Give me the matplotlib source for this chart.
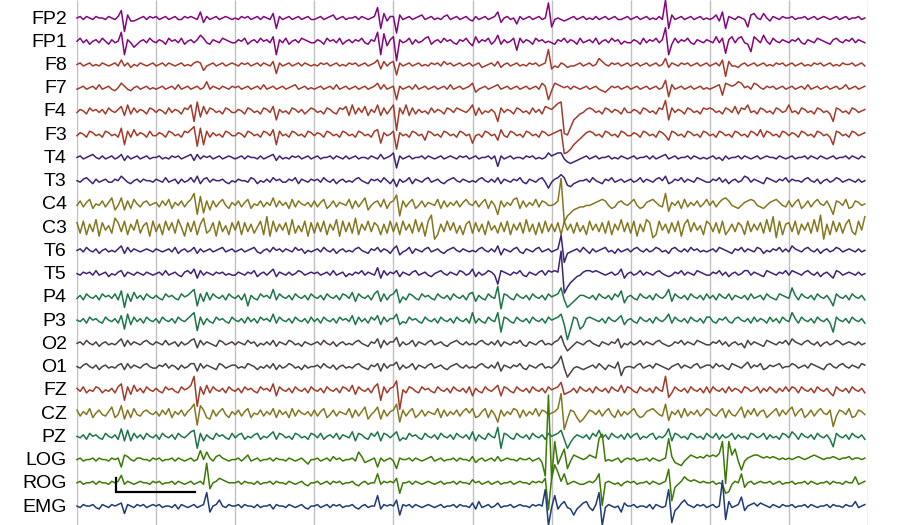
import numpy as np
import matplotlib
matplotlib.use("Agg")
import matplotlib.pyplot as plt

# 10 s of EEG, one string per second (25 samples each).
# Sample code is base 36: 'i' = 0, each step away from 'i' is one unit (up = positive).
FP2 = ["ijhjihjiihjihjn9kgghijhji", "jhijhijhhjijihmfjhijhijih", "ihjijhijhjihlbjhijhijhijh",
       "hijhijkhijhiijhjihijpblgj", "j8khijhijkhijhihjkhijhijh", "gjhijhijmfijhiejhijhijhis",
       "chihghijhijhihjhijhijhhij", "hijhijhihjhubkhijhijhijhi", "hikgmbjihjihcklihligjihji",
       "ijhiijhijhijihijhijhiijhi"]
FP1 = ["ikhjgijhkigjhio9jhegijhki", "hjigkijhkgijhjmkhgjihkjih", "hjikgijhkijhl9jhkgijhkjih",
       "hjigkijhkgijhjikhgjio9nfj", "l5jhikgjhiklgijhkijhgjikh", "flhjikgimgjhikckhjigkijhi",
       "hgjikhjigkhijhkgijhkijgih", "hjigkhjikhjr9gkhjikhgjihj", "ihlhkajlhklhgbljhmigkihji",
       "hjikhgjihkjihgjkihjikhjih"]
F8 = ["ijhijhihjihijhlhjgihjihij", "hijhjihijhihjkjehijhijhij", "ihjijhijhjihkcjhijhijhjih",
      "ihjijhijhihjijhijhijlfkhj", "kbjhijhijhihjijhkijhijhij", "hijghijhkgijhijhihjijhijs",
      "fhgjighhijhijhimkihjijhij", "hijhijhijhimgjihjijhijhij", "hijhlakhhgijhijhijhihjijh",
      "ijhijhihjijhijhihjiijhijh"]
F7 = ["hijhijhkhijhgiljhgijhijhi", "hijhijhkhijhijhimhjihjihj", "ijhijhijhkhijhijhijkhijhi",
      "hijhijhkhijhijhijhijlhkhi", "jajhijhkhijhijhijhkhijhij", "lfhijhijkhijhijhijhijhlja",
      "glkjijhjihijhijhgfhjijhij", "hijhijhijhinckhijhijhijhi", "hijkdlkjkmlijhlkihjijhijh",
      "ijhijhkhijhijhijhikhijhij"]
F4 = ["hjigkijhjgkihjlfmgkhjigkj", "hjigkhjigkjmboelgkjhigkjh", "hjigkjhigkjhlcjhigkjhjgik",
      "jhigkjhgkjlfmgkhlfjhmfkgj", "m5kgmfkgjhigkhjigkjhkjihj", "mfkgihjhbkhjigkjhigkhjglk",
      "jlno327ceghjkjhigkjhjigkh", "hjigkjhigkjpckhjigkjhigkj", "kjhigkjhlgkjmhigkjhigkjhi",
      "mhigkjhigkjhigbkjhigkjhij"]
F3 = ["hjigkjhigkjhigmbkglhjigkh", "hjigkjhigkjlnambkgjhigkjh", "hjigkjhigkjhlbkhigkjhigkj",
      "hjigkjhigkjhigkjhigklcjhi", "k8jhigkjhiekjhigkjhigkjhi", "chigkjhielhgkjhigkjhigkjh",
      "ijkl568bdfhjkjhigkjhigkjh", "hjigkjhigkjhekjhigkjhigkj", "higkjhigkjhigkjhlgkjhigkj",
      "hjigkjhigkjhigbkjhigkjhij"]
T4 = ["ijhijkihjhijhikgjhijhijhi", "ijhihjijhijkgkhjijhijhiji", "hijhjiihjhijkgjhihjijhijh",
      "ijhiijhjihjhijhiihjihkhij", "lbjhijhiijhjihijhijihjijh", "ijhiijhjcjhijhiihjijhihil",
      "jkllhfefghijhijhiijhihjih", "ijhiijhjhijkhijhiijhjihih", "ijhigjhiijhjihijhijiihjih",
      "ijhiijhjihjihijhiijhjihji"]
T3 = ["ihjkigjhijhhjiljhgijhjiih", "jihkhijgjhikhlgjkhjiijhgi", "hjiihkjgihjhkijhhjikgjihj",
      "ijhkihjgijhihjkihgjijhkig", "jejhikgjihjkhijhgijkihjih", "ihjkihjhkgjihjikhgjihjkhd",
      "hjkmkfeghiijhkihgjikhijhi", "jhikhjihjkilghjikhjihkjih", "hjikhjgijhilkhjihgkjihjik",
      "hjiihjkihjgijhikjhijihjhi"]
C4 = ["hkgjlfihkgjmehmekfligjkhi", "jgkhlfjhkgjlpbnckekgjlhfj", "hkgjlfihkgjhmgkhjflgkihjg",
      "kgjlfhkgjihlfkgjmehjkglfj", "koakgjlfhkgjihlfkgjhkgjli", "hkgjlfkhbkgjhlmfkgjhlgkjh",
      "hikz6acefgghhijklkhfgjkih", "jlhfgjkljhgpdjhkflgjhkgil", "hkgjlmkhgfhjklkhgfhjkljhg",
      "kgjlfhkgjlihkgbkjhlfgkjhi"]
C3 = ["lemdkfnclgjeolfmdkgnejlcm", "fkdmglenicl fmdkoeglcmfjdl".replace(" ", ""), "gmdlfkeimdpcmfkgldnejfmcl",
      "elfmdkgncmfleodkgmfljdkem", "fldmgkenflcmqadkfmglejdkm", "elfkdmgjelfmdkglenfkdlemf",
      "kfldmgkelfjdmgkflemdkgnfl", "emckfnlbdmgkelfmcknflgjdm", "kflemdgkfljdmfkglenfpbmdk",
      "lfmdkglenfqakdmfleknfdmgp"]
T6 = ["ijhkihjgijhihjlgkhjihijih", "jihijhkgijhikgjhijhijkhij", "hijhijkhgijhkijhjihkijgih",
      "ijhkihjgijhihjkihgjikhjig", "jlfhikgjihjkhijhgijkihjih", "ihjkihjhlfjihjkhgjihjkhij",
      "hijsaghijhkigjhijkhigjhij", "hjkihjhikjhigjkihjhkijhih", "ijhkjihgjikhjihkjgihjikhj",
      "hljihjkihjgijhikjhijihjhi"]
T5 = ["ihjijhkhijgihjkgjihjihjih", "ijhkhijhgjkilfkhjihjijhih", "hjihjikgijhjlgjihjhikjhij",
      "ijhijhkhijgihjikhjihmfkhj", "ikgjihjkhijhgijkihjihkjhi", "lgjhikjhbkjihjikhgjihjkhk",
      "jkjx59ceghjkkjkjihijhilfi", "jhikhjihjkihghjikhjihkjih", "hjikhjgijhikkhjihgkjihjik",
      "hkjihjkihjgijhfkjhijihjhi"]
P4 = ["hjgkihjgkijhkgmbkflhjgkih", "jhgkijhgkijlnckflgkihjgki", "hjgkcjhgkijhngkihjgkihjgk",
      "ihjgkihjgkjhlfkihjgkmfkgj", "kneigkjhgkijhgkihjgkihjgk", "lfjhgkihpakjhgkihjgkihjgk",
      "ijkogbdfhjjihjgkihjgkimei", "jhgkihjgkihjnfkihjgkihjgk", "hjgkihkgjihjgkhijgkihgkji",
      "hojgkihjgkihjgckihjgkihjg"]
P3 = ["ihjgkijhgkihjglcmfkhjgkih", "jgkihjgkihjlnbkfjhgkijhgk", "ihjgkhjgkijhmgkihjgkihjgk",
      "hjgkihjgkijhlfkhjgkilfkhj", "jmfhgkijhgkihjgkihjgkihjg", "ngjhgkihnakjhgkihjgkihjgk",
      "ijkmf5ckjcejkjihjgkihjlfi", "jhgkihjgkihjmgkihjgkihjgk", "khgjikhgjkihjgkhjigkhjgki",
      "hnjgkihjgkihjgakihjgkihjg"]
O2 = ["ijhkihjgijhihjlgkhjihjkih", "jihkhijgjhiklfkhjihgkjhij", "hjihkijgihjhkgjihkjhigjih",
      "ijhkihjgijhihjkihgjilfkhj", "jmgjhikgjihjkhijhgijkihjh", "ihjkihjhkgjihjikhgjihjkhi",
      "hjknhdfhjihjkihgjihjilfih", "jhikhjihjkihghjikhjihkjih", "hjikhjgijhifkhjihgkjihjik",
      "hljihjkihjgijhikjhijihjhi"]
O1 = ["ihjkihjgijhihjkgkhjihjkih", "hjikhjigjhikkfkhjihgkjhij", "jhihkjigihjhkgjhikjhigjhi",
      "ijhkihjgijhihjkihgjikfkhj", "jlgjhikgjihjkhijhgijkihjh", "ihjkihjhlfjihjikhgjihjkhi",
      "hjlphbehihghijhkigjihlchi", "ihjkhijhkjihgijkhjihjkhij", "jhkijhgkjihjlhjikghjijkhi",
      "ikjhijhkjihgjkihjkihjihkj"]
FZ = ["jhkgihkjgihjgkmbkflhjgkih", "jhgkijhgkijlr7kflgkihjgki", "hjgkijhgkijhmekihjgkihjgk",
      "ihjgkihjgkjhlfkihjgkmbkgj", "ko5igkjhgkijhgkihjgkihjgk", "ejhgkihjlekjhgkihjgkihjgk",
      "ijknfghjgkihjgkihjgkihlgk", "jhgkihjgkihrdgkihjgkihjgk", "gkihjgkhjigkjhikgjhkigjhk",
      "hkjgkihjgkihjgekihjgkihjg"]
CZ = ["kgjhlfikhgjmfhnekflhgjkih", "jgkhlfjhkgjloankfekgjlhfj", "hkgjlfihkgjhlfkhjflgkihjg",
      "kgjlfhkgjihlfkgjmehjmekgj", "kockgjlfhkgjihlfkgjhkgjli", "lfgjlfkhckgjhlkfkgjhlgkjh",
      "ijlv7ekjfcehkjhkgjlhfkgjh", "jlhfgjkljhgodjhkflgjhkgil", "khgjlfkhgjmfkhlgjkfhjlgkh",
      "kmgjlfhkgjlihk9gkjhlfgkjh"]
PZ = ["ihjgkijhgkihjgnfmfkhjgkih", "jgkihjgkihjlmakfjhgkijhgk", "hjkgihjkgihjlgkjhigkjhigk",
      "jhkgijhkgjihlfkjhgkilfkjh", "jlfhgkijhgkihjgkihjgkihjg", "lfjhgkihoakjhgkihjgkihjgk",
      "ijkmgaehjihjgkimhjgkihjgk", "hjkgihjkgihjnfkjhigkjhigk", "ihkgjhikgjhigkjhikgjhigkj",
      "hljgkihjgkihjgbkihjgkihjg"]
LOG = ["ijhiijhjiihjijdlkihjjiihj", "ijhiijhjihijhioinjhkljihi", "ijhjlhijhiijhjiihjihijhfi",
       "ijhijhkijhiijhnkghijdjhij", "hcjiijhjihijkhijhiijhjiih", "kgijhijhkhijiihjiijhijg7z",
       "5ufkpchlkjijlkjwzhihijgij", "ijhiijhjihijwkgfehjlkjkjl", "klkmu2ulphbhjkllkjkjkjiji",
       "jijkjijklkjijjkjijjkijjij"]
ROG = ["ijhiijhjiihjijnhjihijiihj", "ijhiijhjihijhijhveijlkjii", "ijhjiihjhiijhjiihjihijhgi",
       "ijhijhjijhiijhgijhiiohjij", "ilbiijhjihijihijhiijhjiih", "kijhijhijhiijhijiihjijil0",
       "lupjohijihhijiko3ijihigij", "ijhiijhjihijr6fhjmkjkjiji", "ijhihbchjiofijhijiijhijhi",
       "ijhiijhjihiijhjiihjiimhij"]
EMG = ["ihjiijhgjihjijkdjihjijhij", "ijhiihjgjihijhijreijmihji", "ijhjiihjhiijgjiihjihijhgi",
       "ijhijhjijhiijhgijhiipgjij", "imcjijhjihijihijhiijhjiih", "kglhijhikhiijhijiihjijit5",
       "hpgjlhgcgiklhfjr5hjihieki", "ijhiihjgjihit7fhkmjihjijh", "ijhiz9lhijofijkikjihjihji",
       "ijhiijhjihiijhjiihjiilhij"]

CHANNELS = ["FP2", "FP1", "F8", "F7", "F4", "F3", "T4", "T3", "C4", "C3", "T6",
            "T5", "P4", "P3", "O2", "O1", "FZ", "CZ", "PZ", "LOG", "ROG", "EMG"]
TRACES = [FP2, FP1, F8, F7, F4, F3, T4, T3, C4, C3, T6,
          T5, P4, P3, O2, O1, FZ, CZ, PZ, LOG, ROG, EMG]
# samples outside the code range: (channel, second, sample, units)
OVERRIDES = [("LOG", 5, 24, 43)]

COLORS = {
    "FP2": "#84057f", "FP1": "#84057f",
    "F8": "#a23b2a", "F7": "#a23b2a", "F4": "#a23b2a", "F3": "#a23b2a", "FZ": "#a23b2a",
    "T4": "#3e2275", "T3": "#3e2275", "T6": "#3e2275", "T5": "#3e2275",
    "C4": "#857720", "C3": "#857720", "CZ": "#857720",
    "P4": "#1d7647", "P3": "#1d7647", "PZ": "#1d7647",
    "O2": "#4a4045", "O1": "#4a4045",
    "LOG": "#3b7a05", "ROG": "#3b7a05",
    "EMG": "#1e3b78",
}

TOP_ROW = 18.0       # screen units (figure is 525 tall)
ROW_STEP = 23.24
UNIT = 1.5           # screen units per code step


def decode(name, segments):
    t, v = [], []
    for k, seg in enumerate(segments):
        n = len(seg)
        for j, ch in enumerate(seg):
            t.append(k + j / n)
            v.append(int(ch, 36) - 18)
    v = np.array(v, dtype=float)
    for ch_name, sec, idx, val in OVERRIDES:
        if ch_name == name:
            v[sec * 25 + idx] = val
    return np.array(t), v


fig = plt.figure(figsize=(9, 5.25), dpi=100)
ax = fig.add_axes([77 / 900, 0, (868 - 77) / 900, 1])
ax.set_xlim(0, 10)
ax.set_ylim(525, 0)
ax.axis("off")

# one grid line per second
ax.vlines(np.arange(11), 0, 525, colors="#c0c0c0", linewidth=1.0, zorder=1)

for i, (name, segs) in enumerate(zip(CHANNELS, TRACES)):
    base = TOP_ROW + i * ROW_STEP
    t, v = decode(name, segs)
    ax.plot(t, base - v * UNIT, color=COLORS[name], linewidth=1.1,
            zorder=2, clip_on=False)
    ax.text(-0.13, base + 1, name, ha="right", va="center", fontsize=14,
            family=["Liberation Sans", "DejaVu Sans"], color="black", clip_on=False)

# calibration bar: 1 s horizontally
ax.plot([0.49, 0.49, 1.49], [478, 492, 492], color="black", linewidth=1.6,
        solid_joinstyle="miter", zorder=3)

fig.savefig("out.png", dpi=100)
